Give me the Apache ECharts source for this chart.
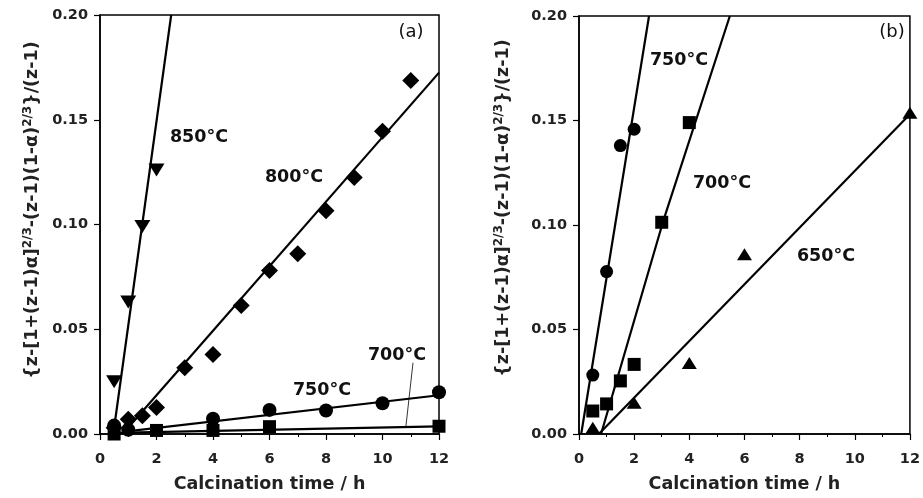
<!DOCTYPE html>
<html>
<head>
<meta charset="utf-8">
<script src="https://cdn.jsdelivr.net/npm/echarts@6/dist/echarts.min.js"></script>
<style>html,body{margin:0;padding:0;background:#fff}#c{width:923px;height:498px}</style>
</head>
<body>
<div id="c"></div>
<script>
// ---- Panel (a) data ----
const a850x = [0.5, 1, 1.5, 2];
const a850y = [0.025, 0.063, 0.099, 0.126];
const a800x = [0.5, 1, 1.5, 2, 3, 4, 5, 6, 7, 8, 9, 10, 11];
const a800y = [0.003, 0.007, 0.0087, 0.0126, 0.0316, 0.0379, 0.0613, 0.078, 0.086, 0.1066, 0.1224, 0.1445, 0.1687];
const a750x = [0.5, 1, 4, 6, 8, 10, 12];
const a750y = [0.004, 0.002, 0.0073, 0.0115, 0.0112, 0.0147, 0.0199];
const a700x = [0.5, 2, 4, 6, 12];
const a700y = [0.0, 0.0017, 0.0017, 0.0035, 0.0037];
// fitted lines (a)
const fa850 = [[0.47, 0.0], [2.52, 0.2]];
const fa800 = [[0.8, 0.0], [12, 0.1725]];
const fa750 = [[0.8, 0.001], [12, 0.0185]];
const fa700 = [[0.5, 0.0005], [12, 0.0036]];
const a700pointer = [[11.08, 0.034], [10.83, 0.0038]];

// ---- Panel (b) data ----
const b750x = [0.5, 1, 1.5, 2];
const b750y = [0.0282, 0.0777, 0.138, 0.1458];
const b700x = [0.5, 1, 1.5, 2, 3, 4];
const b700y = [0.011, 0.0144, 0.0254, 0.0333, 0.1013, 0.149];
const b650x = [0.5, 2, 4, 6, 12];
const b650y = [0.003, 0.015, 0.034, 0.086, 0.1537];
// fitted lines (b)
const fb750 = [[0.08, 0.0], [2.54, 0.2]];
const fb700 = [[0.8, 0.0], [3.05, 0.1017], [5.47, 0.2]];
const fb650 = [[0.72, 0.0], [12, 0.153]];

const xTicks = [0, 2, 4, 6, 8, 10, 12];
const yTicks = [0, 0.05, 0.10, 0.15, 0.20];

const zip = (xs, ys) => xs.map((x, i) => [x, ys[i]]);
const FONT = '"DejaVu Sans", "Liberation Sans", Arial, sans-serif';
const yName = '{z-[1+(z-1)α]{s|2/3}-(z-1)(1-α){s|2/3}}/(z-1)';

function xAxis(idx) {
  return {
    gridIndex: idx, type: 'value', min: 0, max: 12, interval: 2,
    name: 'Calcination time / h', nameLocation: 'middle', nameGap: 41,
    nameTextStyle: {fontFamily: FONT, fontWeight: 'bold', fontSize: 17.5, color: '#222'},
    axisLine: {show: true, onZero: false, lineStyle: {color: '#000', width: 1.5}},
    axisTick: {show: true, inside: false, length: 6, lineStyle: {color: '#000', width: 1.2}},
    minorTick: {show: true, splitNumber: 2, length: 3, lineStyle: {color: '#000', width: 1}},
    axisLabel: {fontFamily: FONT, fontWeight: 'bold', fontSize: 14.5, color: '#222', margin: 18},
    splitLine: {show: false}
  };
}
function yAxis(idx, gap, shift) {
  return {
    gridIndex: idx, type: 'value', min: 0, max: 0.2, interval: 0.05,
    name: yName, nameLocation: 'middle', nameGap: gap,
    nameTextStyle: {fontFamily: FONT, fontWeight: 'bold', fontSize: 17.5, color: '#222', lineHeight: 21,
      padding: [0, 0, 0, shift],
      rich: {s: {fontFamily: FONT, fontWeight: 'bold', fontSize: 12, lineHeight: 11, verticalAlign: 'top', color: '#222'}}},
    axisLine: {show: true, onZero: false, lineStyle: {color: '#000', width: 1.5}},
    axisTick: {show: true, inside: false, length: 6, lineStyle: {color: '#000', width: 1.2}},
    axisLabel: {fontFamily: FONT, fontWeight: 'bold', fontSize: 14.5, color: '#222', margin: 12,
      formatter: v => v.toFixed(2)},
    splitLine: {show: false}
  };
}
function fit(data, g, w) {
  return {type: 'line', xAxisIndex: g, yAxisIndex: g, data: data, symbol: 'none', silent: true,
    lineStyle: {color: '#000', width: w || 2.2}, z: 3, animation: false};
}
function pts(xs, ys, g, sym, size, rot) {
  return {type: 'scatter', xAxisIndex: g, yAxisIndex: g, data: zip(xs, ys), symbol: sym,
    symbolSize: size, symbolRotate: rot || 0, itemStyle: {color: '#000', opacity: 1}, z: 4, animation: false};
}
function label(text, cx, cy, bold, size) {
  return {type: 'text', x: cx, y: cy, style: {text: text, fontFamily: FONT,
    fontWeight: bold ? 'bold' : 'normal', fontSize: size || 17.5, fill: '#111',
    align: 'center', verticalAlign: 'middle'}};
}

const chart = echarts.init(document.getElementById('c'), null, {renderer: 'canvas'});
chart.setOption({
  backgroundColor: '#fff',
  animation: false,
  grid: [
    {left: 100, top: 15, width: 339, height: 422, show: true, borderColor: '#000', borderWidth: 1.5, backgroundColor: 'transparent'},
    {left: 579, top: 16, width: 337, height: 421, show: true, borderColor: '#000', borderWidth: 1.5, backgroundColor: 'transparent'}
  ],
  xAxis: [xAxis(0), xAxis(1)],
  yAxis: [yAxis(0, 57, 29), yAxis(1, 65, 34)],
  series: [
    fit(fa850, 0), fit(fa800, 0), fit(fa750, 0), fit(fa700, 0), fit(a700pointer, 0, 0.8),
    pts(a850x, a850y, 0, 'triangle', [16, 13], 180),
    pts(a800x, a800y, 0, 'rect', 12, 45),
    pts(a750x, a750y, 0, 'circle', 14),
    pts(a700x, a700y, 0, 'rect', 13),
    fit(fb750, 1), fit(fb700, 1), fit(fb650, 1),
    pts(b750x, b750y, 1, 'circle', 13),
    pts(b700x, b700y, 1, 'rect', 13),
    pts(b650x, b650y, 1, 'triangle', [15, 12])
  ],
  graphic: [
    label('850°C', 199, 137, true),
    label('800°C', 294, 177, true),
    label('750°C', 322, 390, true),
    label('700°C', 397, 355, true),
    label('(a)', 411, 32, false, 18),
    label('750°C', 679, 60, true),
    label('700°C', 722, 183, true),
    label('650°C', 826, 256, true),
    label('(b)', 892, 32, false, 18)
  ]
});
</script>
</body>
</html>
